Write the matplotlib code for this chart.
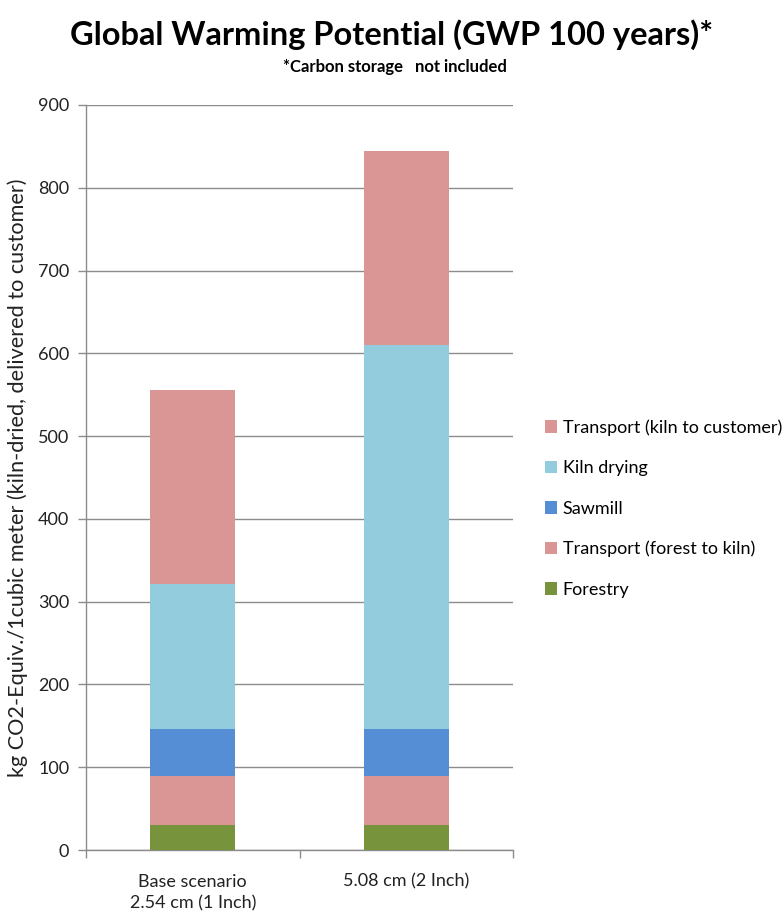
import matplotlib
matplotlib.use("Agg")
import matplotlib.pyplot as plt
import numpy as np

plt.rcParams['font.family'] = ['Lato', 'DejaVu Sans']

categories = ["Base scenario\n2.54 cm (1 Inch)", "5.08 cm (2 Inch)"]
series_names = ["Forestry", "Transport (forest to kiln)", "Sawmill",
                "Kiln drying", "Transport (kiln to customer)"]
forestry = [30, 30]
transport_forest = [60, 60]
sawmill = [56, 56]
kiln_drying = [175, 464]
transport_customer = [235, 235]
series_values = [forestry, transport_forest, sawmill, kiln_drying, transport_customer]
colors = ["#77933C", "#D99694", "#558ED5", "#93CDDD", "#D99694"]
y_ticks = list(range(0, 1000, 100))

fig = plt.figure(figsize=(7.83, 9.13), dpi=100)
ax = fig.add_axes([0.1098, 0.069, 0.5455, 0.816])

x = np.arange(len(categories))
bottom = np.zeros(len(categories))
handles = []
for name, vals, col in zip(series_names, series_values, colors):
    h = ax.bar(x, vals, width=0.4, bottom=bottom, color=col, label=name,
               zorder=3, linewidth=0)
    handles.append(h)
    bottom += np.array(vals)

ax.set_xlim(-0.5, 1.5)
ax.set_ylim(0, 900)
ax.set_yticks(y_ticks)
ax.set_yticklabels([str(v) for v in y_ticks], fontsize=13, color="#222222")
ax.yaxis.grid(True, color="#8C8C8C", linewidth=1, zorder=0)
ax.set_xticks(x)
ax.set_xticklabels(categories, fontsize=13, color="#222222", linespacing=1.45)
ax.set_xticks([-0.5, 0.5, 1.5], minor=True)
ax.tick_params(axis='x', which='major', length=0, pad=17)
ax.tick_params(axis='x', which='minor', length=6, color="#8C8C8C", width=1)
ax.tick_params(axis='y', length=6, color="#8C8C8C", width=1, pad=6)
for s in ["top", "right"]:
    ax.spines[s].set_visible(False)
for s in ["left", "bottom"]:
    ax.spines[s].set_color("#8C8C8C")
    ax.spines[s].set_linewidth(1)

ax.set_ylabel("kg CO2-Equiv./1cubic meter (kiln-dried, delivered to customer)",
              fontsize=15.6, color="#222222", labelpad=7)

leg = fig.legend(handles[::-1], series_names[::-1], loc="center left",
                 bbox_to_anchor=(0.675, 0.443), frameon=False, fontsize=13,
                 handlelength=0.7, handleheight=0.7, handletextpad=0.3,
                 labelspacing=1.35)

fig.text(0.5, 0.962, "Global Warming Potential (GWP 100 years)*",
         ha="center", va="center", fontsize=23.5, fontweight="bold")
fig.text(0.505, 0.927, "*Carbon storage   not included",
         ha="center", va="center", fontsize=12, fontweight="bold")

fig.savefig("out.png", dpi=100)
